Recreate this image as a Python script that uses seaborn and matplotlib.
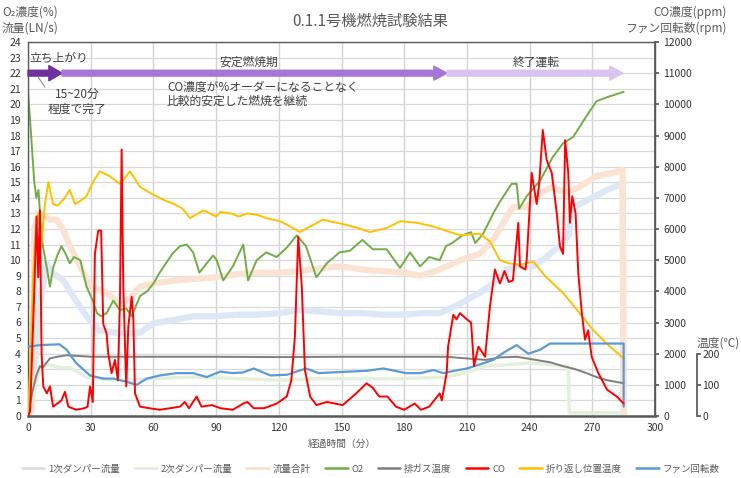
import matplotlib
matplotlib.use('Agg')
import matplotlib.pyplot as plt
from matplotlib.lines import Line2D
import seaborn as sns

# --- data (time in minutes) ---
# O2 concentration (%)
o2_t = [0, 1, 2, 3, 4, 5, 6, 7, 9, 10.5, 12, 14, 16, 18, 20, 22, 25, 28, 31, 33, 35, 37.6, 40.8, 44,
        47, 49.6, 53.6, 57, 60, 63, 66, 69, 72.7, 76, 79, 82, 85.5, 88.6, 90.3, 93.4, 98, 103, 105.3,
        109.4, 114, 119, 123.8, 128.6, 133, 138, 143, 149, 154, 160, 165, 171.6, 178, 182.8, 187.6,
        192, 197, 200, 203, 208, 212, 214, 217.8, 222.6, 225.8, 231.4, 233.8, 235, 238.6, 245, 251,
        256, 260.8, 267, 272, 278, 285]
o2_v = [20.8, 19, 17, 15, 14, 14.5, 12.5, 11, 9.5, 8.3, 9.5, 10.3, 10.9, 10.4, 9.8, 10.2, 10, 8.3,
        7.4, 6.6, 6.4, 6.6, 7.4, 6.8, 6.9, 6.4, 7.7, 8.0, 8.5, 9.2, 9.8, 10.4, 10.9, 11.0, 10.5, 9.2,
        9.8, 10.3, 10.0, 8.7, 9.6, 11.0, 8.7, 10.0, 10.5, 10.2, 10.8, 11.6, 10.9, 8.9, 9.8, 10.5, 10.6,
        11.3, 10.7, 10.7, 9.5, 10.5, 9.6, 10.2, 10.0, 10.9, 11.1, 11.6, 11.8, 11.1, 11.7, 13.0, 13.75,
        14.9, 14.9, 13.3, 14.1, 15.1, 16.6, 17.5, 17.9, 19.2, 20.2, 20.5, 20.8]

# flows (LN/s)
total_t = [0, 2, 3, 5, 8, 10.5, 13.7, 17, 20, 25, 29.7, 34, 39, 44, 49, 53.6, 60, 70, 80, 90, 100,
           110, 120, 130, 140, 150, 160, 170, 180, 187.6, 197, 206.7, 216, 222.6, 227.4, 232, 238.6,
           245, 251, 257, 264, 272, 280, 284.5, 285]
total_v = [0, 0.5, 12, 13, 12.8, 12.6, 12.6, 11.9, 10.9, 9.6, 8.3, 8.1, 7.8, 7.0, 7.6, 8.3, 8.5, 8.7,
           8.8, 8.9, 9.1, 9.2, 9.2, 9.3, 9.5, 9.6, 9.4, 9.3, 9.2, 9.0, 9.4, 10.0, 10.4, 11.3, 12.4,
           13.4, 13.4, 14.3, 14.7, 14.3, 14.7, 15.4, 15.6, 15.8, 0]
prim_t = [0, 3, 6, 9, 12, 17, 21.7, 28, 34, 41, 47, 53.6, 60, 69.5, 79, 90, 100, 110, 120, 130, 140,
          150, 160, 170, 180, 187.6, 197, 206.7, 216, 222.6, 229, 235, 241.8, 248, 256, 259, 260,
          264, 270, 277, 284.5, 285]
prim_v = [0, 3, 7.5, 9.8, 9.15, 8.7, 7.65, 6.4, 5.5, 5.35, 5.3, 5.35, 5.95, 6.15, 6.4, 6.4, 6.5, 6.5,
          6.6, 6.8, 6.7, 6.6, 6.6, 6.5, 6.5, 6.6, 6.6, 7.2, 7.9, 8.5, 9.4, 9.6, 9.6, 10.2, 11.1, 11.7,
          13.3, 13.6, 14.0, 14.5, 14.9, 0]
sec_t = [0, 3, 6, 10, 15, 20, 28, 40, 50, 60, 80, 100, 120, 140, 160, 180, 200, 210, 219, 230, 240,
         250, 256, 258.5, 259, 270, 285, 285]
sec_v = [0, 1.5, 3.2, 3.3, 3.1, 3.1, 2.5, 2.3, 2.3, 2.4, 2.5, 2.4, 2.3, 2.4, 2.4, 2.4, 2.5, 2.8, 3.2,
         3.3, 3.4, 3.3, 3.2, 3.2, 0.2, 0.2, 0.2, 0]

# temperatures (deg C)
turn_t = [0, 1, 2.5, 4, 5, 6.5, 8, 9.7, 12, 14, 17, 20, 22.5, 25, 28, 31, 34.4, 39, 44, 46, 48.8, 53.6,
          60, 66, 70, 74, 77.5, 84, 90, 92, 97, 101, 105, 110, 114, 120.6, 125, 130, 135, 141, 151,
          157, 163.6, 171.6, 178, 186, 194, 202, 206.7, 216, 221, 225.8, 230, 235, 241.8, 248, 256,
          264, 270.5, 278.5, 285]
turn_v = [0, 150, 460, 625, 650, 555, 675, 750, 680, 675, 695, 725, 680, 690, 705, 750, 785, 770, 745,
          760, 785, 735, 710, 690, 680, 665, 635, 660, 640, 655, 650, 640, 650, 645, 635, 625, 610,
          590, 608, 630, 615, 605, 590, 603, 625, 620, 608, 590, 580, 585, 560, 500, 490, 485, 495,
          445, 395, 330, 275, 222, 185]
exh_t = [0, 2, 4, 5.7, 7, 10.5, 14, 18.5, 30, 60, 90, 120, 150, 180, 200, 219, 226, 234, 243, 250,
         256, 262, 267, 272, 277, 285]
exh_v = [0, 75, 130, 160, 155, 185, 190, 195, 190, 190, 190, 189, 190, 190, 190, 180, 188, 190, 180,
         172, 160, 150, 138, 125, 115, 105]

# fan speed (rpm)
fan_t = [0, 6, 15, 18.5, 23, 29.7, 36, 41, 47, 52, 56.8, 63, 71, 79, 85.5, 92, 98, 103, 108, 116, 124,
         133, 139, 146, 154, 162, 170, 181, 187.6, 194, 198.7, 204, 210, 216, 222.6, 228, 233.8,
         239.4, 245, 249.8, 260, 270, 285, 285]
fan_v = [2225, 2275, 2300, 2125, 1700, 1300, 1200, 1200, 1100, 1000, 1200, 1300, 1375, 1375, 1250,
         1425, 1375, 1400, 1525, 1300, 1325, 1525, 1375, 1400, 1425, 1450, 1525, 1375, 1375, 1475,
         1375, 1450, 1525, 1650, 1800, 2050, 2275, 2000, 2125, 2325, 2325, 2325, 2325, 300]

# CO concentration (ppm)
co_t = [0, 1, 3, 4.1, 4.9, 5.7, 6.5, 7.3, 9, 10.5, 12, 16, 17.7, 19.3, 23, 27, 28.5, 29.7, 31, 32,
        33.6, 35, 36, 37.6, 38.4, 40, 41.6, 43, 44, 44.8, 45.6, 47, 48, 49.6, 50.4, 51.2, 53.6, 58,
        63, 68, 72.7, 75, 77, 80.7, 83, 88, 92, 98, 103, 105, 108, 113, 119, 123.8, 126, 127.7, 129.3,
        131, 132.5, 135, 138, 143, 150.6, 157, 162, 165, 168, 172, 176, 180, 185, 188, 192, 197, 198,
        200.3, 201, 203.5, 205, 206.7, 210, 212, 213.4, 215.5, 218.7, 221, 223.4, 225.8, 228, 230,
        232, 234.6, 235.4, 238, 238.6, 241, 243.4, 244.6, 246.3, 248.2, 250.6, 253, 254.5, 256, 257,
        258.5, 259.3, 260.4, 262, 263.3, 265, 266.5, 268, 269.7, 272.9, 277, 281.7, 285]
co_v = [0, 150, 4000, 6400, 4450, 6600, 2000, 950, 725, 950, 300, 500, 775, 300, 200, 250, 300, 950,
        450, 5200, 5950, 5950, 2950, 2650, 2000, 1375, 1800, 1150, 3725, 8550, 4150, 950, 2875, 3825,
        3100, 725, 300, 250, 200, 250, 300, 450, 250, 625, 300, 350, 250, 200, 400, 450, 250, 250, 400,
        625, 1150, 2550, 5750, 4150, 1475, 625, 350, 450, 350, 725, 1050, 900, 625, 625, 300, 200, 400,
        200, 300, 725, 500, 1375, 2225, 3250, 3100, 3300, 3100, 3000, 1600, 2225, 1900, 3500, 4700,
        4250, 4650, 4300, 4350, 6200, 4800, 4700, 5000, 7800, 6800, 7450, 9175, 8200, 7800, 6500, 5450,
        5200, 8850, 7800, 6200, 7050, 6500, 4575, 3300, 2450, 2750, 1900, 1375, 850, 625, 400]

names = ['1次ダンパー流量', '2次ダンパー流量', '流量合計', 'O2', '排ガス温度', 'CO', '折り返し位置温度', 'ファン回転数']
colors = ['#dde7f5', '#e4f0dc', '#fbe3d4', '#70ad47', '#7f7f7f', '#ff0000', '#ffc000', '#5b9bd5']
legend_colors = ['#dadada', '#e3ecdc', '#f6ddc8', '#70ad47', '#7f7f7f', '#ff0000', '#ffc000', '#5b9bd5']

sns.set_theme(style='white')
plt.rcParams['font.family'] = ['Noto Sans CJK JP', 'DejaVu Sans']

grey = '#595959'
fig = plt.figure(figsize=(7.41, 4.78), dpi=100)
ax = fig.add_axes([28 / 741, 62 / 478, 627 / 741, 374 / 478])
ax3 = ax.twinx()  # temperature
ax2 = ax.twinx()  # CO / fan

kw = dict(estimator=None, sort=False, legend=False)
sns.lineplot(x=prim_t, y=prim_v, ax=ax, color=colors[0], lw=4.5, **kw)
sns.lineplot(x=total_t, y=total_v, ax=ax, color=colors[2], lw=4.5, **kw)
sns.lineplot(x=sec_t, y=sec_v, ax=ax, color=colors[1], lw=2.5, **kw)
sns.lineplot(x=o2_t, y=o2_v, ax=ax, color=colors[3], lw=1.4, **kw)
sns.lineplot(x=exh_t, y=exh_v, ax=ax3, color=colors[4], lw=1.4, **kw)
sns.lineplot(x=turn_t, y=turn_v, ax=ax3, color=colors[6], lw=1.4, **kw)
sns.lineplot(x=fan_t, y=fan_v, ax=ax2, color=colors[7], lw=1.6, **kw)
sns.lineplot(x=co_t, y=co_v, ax=ax2, color=colors[5], lw=1.4, **kw)

ax.set_xlim(0, 300)
ax.set_ylim(0, 24)
ax.set_xticks(range(0, 301, 30))
ax.set_yticks(range(0, 25))
ax.grid(axis='y', color='#d9d9d9', lw=0.9)
ax.grid(axis='x', color='#d3d3d3', lw=1.0)
ax.tick_params(axis='both', length=0, labelsize=7.5, labelcolor='#333333', pad=5)
for s in ['left', 'top', 'right']:
    ax.spines[s].set_color(grey)
    ax.spines[s].set_linewidth(1.0)
ax.spines['bottom'].set_color(grey)
ax.spines['bottom'].set_linewidth(1.8)
ax.set_xlabel('経過時間（分）', fontsize=7, color=grey, labelpad=4)
ax.set_ylabel('')

ax2.set_ylim(0, 12000)
ax2.set_yticks(range(0, 12001, 1000))
ax2.tick_params(axis='y', length=3, direction='out', labelsize=7.5, labelcolor='#333333',
                color=grey, pad=3)
for s in ['left', 'top', 'bottom']:
    ax2.spines[s].set_visible(False)
ax2.spines['right'].set_color(grey)
ax2.set_ylabel('')

ax3.set_ylim(0, 1200)
ax3.set_yticks([0, 100, 200])
ax3.spines['right'].set_position(('axes', 1.067))
ax3.spines['right'].set_bounds(0, 200)
ax3.spines['right'].set_color(grey)
for s in ['left', 'top', 'bottom']:
    ax3.spines[s].set_visible(False)
ax3.tick_params(axis='y', length=3, direction='out', labelsize=7.5, labelcolor='#333333',
                color=grey, pad=1)
ax3.set_ylabel('')

# phase arrows
def phase_arrow(x0, x1, c, hw=1.1):
    ax.annotate('', xy=(x1, 22), xytext=(x0, 22),
                arrowprops=dict(arrowstyle=f'simple,head_length=0.95,head_width={hw},tail_width=0.42',
                                color=c, shrinkA=0, shrinkB=0, mutation_scale=10), zorder=5)

phase_arrow(0, 16.3, '#7030a0')
phase_arrow(16.3, 200.5, '#a576d6', 1.0)
phase_arrow(200.5, 284.7, '#d9c3f0', 1.0)

txt = '#404040'
ax.text(0.7, 23.0, '立ち上がり', fontsize=8.5, color=txt, va='center', ha='left')
ax.text(105.7, 22.7, '安定燃焼期', fontsize=8.5, color=txt, va='center', ha='center')
ax.text(243, 22.7, '終了運転', fontsize=8.5, color=txt, va='center', ha='center')
ax.text(23.4, 20.15, '15~20分\n程度で完了', fontsize=8.5, color=txt, va='center', ha='center',
        linespacing=1.15)
ax.plot([4.9, 8.1], [21.74, 21.1], color='#808080', lw=0.7)
ax.text(66.5, 20.65, 'CO濃度が%オーダーになることなく\n比較的安定した燃焼を継続', fontsize=8.5,
        color=txt, va='center', ha='left', linespacing=1.15)

fig.text(0.5, 1 - 21 / 478, '0.1.1号機燃焼試験結果', fontsize=11, color=grey, ha='center', va='center')
fig.text(2 / 741, 1 - 12 / 478, 'O₂濃度(%)', fontsize=8.5, color=grey, ha='left', va='center')
fig.text(2 / 741, 1 - 28 / 478, '流量(LN/s)', fontsize=8.5, color=grey, ha='left', va='center')
fig.text(727 / 741, 1 - 12 / 478, 'CO濃度(ppm)', fontsize=8.5, color=grey, ha='right', va='center')
fig.text(727 / 741, 1 - 28 / 478, 'ファン回転数(rpm)', fontsize=8.5, color=grey, ha='right', va='center')
fig.text(697 / 741, 1 - 343 / 478, '温度(℃)', fontsize=8.5, color=grey, ha='left', va='center')

handles = [Line2D([0], [0], color=c, lw=1.8) for c in legend_colors]
leg = fig.legend(handles, names, loc='center', bbox_to_anchor=(0.5, 1 - 469 / 478), ncol=8,
                 frameon=False, fontsize=6.8, handlelength=2.4, columnspacing=1.5, handletextpad=0.4)
for t in leg.get_texts():
    t.set_color(grey)

fig.savefig('out.png', dpi=100)
